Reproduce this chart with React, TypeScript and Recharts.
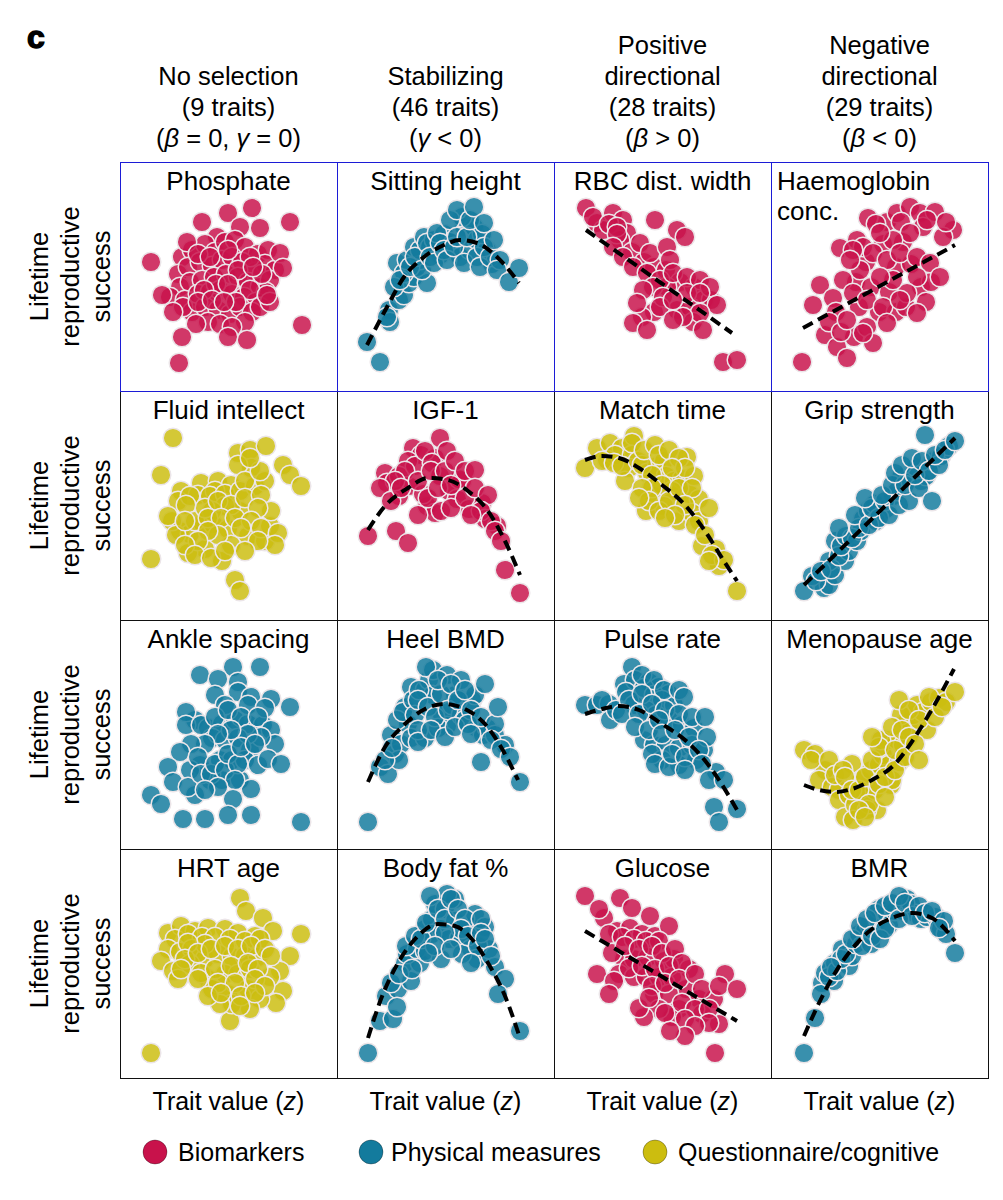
import { ScatterChart, Scatter, XAxis, YAxis } from "recharts";

type P = [number, number];

// positions in panel units: x from the left edge, y down from the top edge
const BIO = "#C8124B";
const PHYS = "#137B9D";
const QUEST = "#CCBD0F";

const PW = 217;
const PH = 229;
const COLS = [120, 337, 554, 771];
const ROWS = [162, 391, 620, 849];

const columnHeads = [
  ["No selection", "(9 traits)", "(β = 0, γ = 0)"],
  ["Stabilizing", "(46 traits)", "(γ < 0)"],
  ["Positive", "directional", "(28 traits)", "(β > 0)"],
  ["Negative", "directional", "(29 traits)", "(β < 0)"],
];

const legendItems = [
  { label: "Biomarkers", color: BIO, cx: 155, tx: 178 },
  { label: "Physical measures", color: PHYS, cx: 371, tx: 391 },
  { label: "Questionnaire/cognitive", color: QUEST, cx: 655, tx: 678 },
];

// row 1
const phosphatePts: P[] = [
  [31, 100], [82, 60], [108, 51], [132, 46], [170, 60], [120, 65], [140, 66], [97, 75],
  [62, 95], [72, 88], [85, 82], [95, 90], [105, 80], [115, 78], [125, 85], [138, 92], [148, 88],
  [58, 112], [68, 105], [80, 100], [92, 104], [102, 98], [112, 95], [122, 100], [135, 110], [145, 102], [155, 108],
  [60, 125], [70, 120], [82, 118], [94, 115], [106, 112], [118, 115], [128, 120], [140, 125], [150, 118],
  [50, 135], [65, 138], [78, 132], [90, 130], [100, 128], [112, 132], [124, 135], [136, 140], [146, 130],
  [72, 150], [85, 145], [98, 148], [110, 152], [120, 145], [132, 150], [88, 160], [100, 162], [76, 162],
  [67, 80], [78, 92], [90, 95], [108, 88], [130, 95], [142, 112], [118, 108], [96, 122], [84, 128],
  [108, 122], [130, 128], [63, 145], [78, 140], [116, 140], [92, 138], [104, 140], [140, 145], [150, 140],
  [125, 160], [112, 165],
  [160, 91], [163, 106], [147, 133], [133, 105], [42, 133], [53, 150],
  [182, 163], [62, 175], [108, 175], [127, 178], [59, 201],
];
const sittingPts: P[] = [
  [30, 180], [43, 200], [52, 148], [53, 160], [62, 138], [50, 155], [67, 133], [72, 121], [77, 115],
  [90, 121], [60, 101], [67, 111], [80, 105], [70, 98], [83, 98], [77, 85], [83, 88], [87, 75],
  [57, 125], [63, 118], [73, 105], [78, 95], [85, 108], [93, 85], [97, 78], [103, 93], [107, 72],
  [113, 80], [118, 90], [123, 95], [127, 65], [133, 88], [137, 65], [140, 78], [150, 88], [155, 102],
  [145, 72], [125, 55],
  [90, 81], [93, 95], [97, 101], [100, 71], [103, 81], [107, 88], [110, 98], [113, 58], [117, 85],
  [120, 48], [120, 75], [127, 101], [130, 75], [133, 58], [137, 45], [140, 95], [147, 61], [147, 85],
  [143, 105], [153, 95], [157, 78], [163, 98], [160, 108], [172, 120], [182, 106],
];
const rbcPts: P[] = [
  [32, 46], [43, 61], [49, 68], [59, 51], [69, 58], [73, 71], [66, 78], [101, 58], [123, 68], [131, 75],
  [39, 55], [55, 62], [63, 65], [63, 72], [78, 90], [90, 100], [100, 105], [112, 108], [126, 120],
  [140, 125], [150, 138], [113, 125], [123, 148], [136, 145], [100, 150], [88, 155], [139, 160], [157, 138],
  [59, 85], [69, 95], [86, 81], [96, 91], [113, 85], [116, 98], [79, 105], [93, 111], [106, 118],
  [119, 111], [133, 115], [146, 118], [156, 125], [99, 125], [89, 128], [109, 135], [133, 131],
  [83, 141], [106, 145], [119, 138], [146, 131], [163, 143], [146, 151], [129, 155], [119, 158],
  [79, 161], [93, 168], [149, 168], [169, 200], [183, 198],
];
const haemoPts: P[] = [
  [31, 200], [54, 173], [66, 185], [76, 196], [42, 143], [49, 123], [62, 136], [69, 86], [86, 78],
  [97, 56], [116, 60], [126, 51], [139, 45], [149, 51], [164, 50], [152, 65], [182, 68], [172, 75],
  [105, 62], [130, 60], [156, 58], [175, 60], [112, 82], [132, 80], [95, 100], [125, 105], [140, 102],
  [150, 125], [85, 120], [100, 125], [118, 130], [108, 150], [88, 145], [65, 150], [58, 160], [83, 175],
  [70, 170], [125, 150], [135, 145], [155, 140], [160, 120], [92, 85], [82, 88],
  [139, 71], [122, 78], [109, 71], [102, 91], [116, 98], [129, 91], [146, 95], [159, 101], [169, 115],
  [146, 115], [136, 131], [122, 118], [109, 115], [89, 108], [79, 98], [72, 118], [82, 131], [96, 138],
  [112, 145], [129, 138], [146, 151], [116, 161], [96, 165], [76, 158], [102, 181], [92, 171],
];

// row 2
const fluidPts: P[] = [
  [53, 47], [41, 84], [31, 168], [118, 62], [130, 59], [146, 55], [163, 74], [170, 84], [181, 95],
  [131, 77], [118, 74], [61, 100], [81, 92], [98, 90], [111, 94], [78, 104], [95, 100],
  [58, 110], [70, 105], [90, 105], [105, 103], [120, 100], [135, 95], [145, 90], [60, 140], [70, 143],
  [83, 133], [93, 133], [108, 138], [128, 145], [145, 150], [150, 135], [102, 170], [85, 158], [68, 162],
  [52, 130], [120, 120], [105, 115], [92, 120], [125, 90], [140, 80], [130, 67],
  [48, 125], [56, 144], [66, 114], [75, 130], [85, 117], [98, 110], [111, 114], [125, 107], [141, 104],
  [151, 120], [138, 117], [88, 127], [101, 127], [115, 127], [65, 130], [131, 130], [141, 137],
  [121, 137], [158, 142], [155, 154], [138, 150], [111, 154], [98, 144], [88, 140], [78, 150],
  [65, 154], [75, 164], [91, 167], [105, 160], [125, 160], [115, 189], [120, 200],
];
const igfPts: P[] = [
  [31, 145], [59, 140], [71, 152], [103, 47], [76, 57], [84, 64], [71, 70], [98, 67], [48, 82],
  [50, 92], [62, 85], [72, 95], [78, 75], [88, 60], [95, 72], [103, 85], [112, 100], [120, 108],
  [125, 90], [132, 118], [145, 112], [148, 128], [160, 135], [90, 115], [98, 122], [62, 105], [86, 103],
  [110, 60], [122, 88],
  [68, 80], [58, 90], [43, 97], [54, 110], [64, 97], [81, 90], [94, 80], [108, 80], [81, 124],
  [91, 107], [101, 97], [104, 120], [114, 117], [118, 70], [128, 80], [138, 79], [114, 94], [128, 107],
  [138, 97], [151, 104], [144, 120], [134, 124], [154, 130], [158, 140], [164, 150], [168, 179], [183, 202],
];
const matchPts: P[] = [
  [31, 77], [43, 57], [56, 52], [53, 69], [68, 57], [61, 64], [80, 45], [78, 64], [75, 77], [71, 90],
  [48, 70], [60, 72], [68, 75], [78, 52], [84, 70], [93, 82], [103, 75], [110, 70], [112, 85], [120, 90],
  [128, 88], [135, 103], [145, 108], [118, 100], [100, 105], [92, 120], [110, 115], [125, 130],
  [138, 122], [145, 130], [148, 155], [162, 158], [165, 175], [140, 85], [133, 66],
  [88, 74], [90, 59], [101, 54], [105, 64], [115, 59], [125, 67], [131, 77], [118, 77], [98, 84],
  [108, 94], [98, 97], [88, 97], [95, 110], [85, 107], [105, 120], [115, 110], [125, 97], [138, 97],
  [131, 114], [121, 124], [111, 127], [155, 117], [141, 134], [151, 144], [158, 164], [170, 169],
  [155, 170], [183, 200],
];
const gripPts: P[] = [
  [33, 200], [53, 197], [41, 185], [58, 194], [64, 184], [58, 170], [74, 170], [78, 160], [64, 150],
  [45, 190], [50, 180], [60, 178], [68, 165], [70, 155], [75, 145], [86, 150], [92, 128], [97, 120],
  [104, 113], [115, 118], [122, 105], [126, 100], [130, 86], [138, 88], [145, 76], [150, 90], [155, 85],
  [162, 70], [170, 65], [178, 55], [90, 140], [105, 130],
  [81, 147], [68, 137], [88, 137], [84, 124], [98, 134], [108, 127], [101, 117], [94, 107], [114, 110],
  [111, 104], [118, 124], [128, 114], [138, 110], [121, 94], [134, 94], [148, 97], [161, 110],
  [124, 82], [131, 74], [144, 84], [141, 67], [151, 70], [158, 80], [168, 74], [164, 64], [174, 59],
  [154, 44], [184, 50],
];

// row 3
const anklePts: P[] = [
  [80, 55], [113, 47], [140, 47], [98, 59], [118, 62], [95, 75], [118, 72], [131, 77], [151, 79],
  [75, 100], [88, 108], [102, 104], [115, 100], [128, 104], [143, 105], [92, 118], [105, 120],
  [118, 118], [130, 130], [80, 145], [100, 140], [112, 140], [125, 140], [138, 145], [70, 150],
  [90, 160], [102, 160], [120, 160], [75, 175], [128, 85], [105, 85], [145, 88],
  [170, 87], [66, 92], [66, 105], [81, 105], [95, 97], [108, 90], [121, 97], [138, 97], [151, 110],
  [155, 124], [141, 117], [128, 114], [111, 110], [98, 114], [85, 124], [71, 124], [60, 132],
  [78, 137], [48, 147], [53, 162], [68, 167], [81, 154], [91, 154], [95, 144], [105, 150], [108, 134],
  [118, 144], [121, 127], [135, 124], [148, 139], [161, 144], [131, 169], [115, 160], [113, 179],
  [98, 167], [85, 170], [31, 175], [41, 184], [63, 199], [85, 199], [108, 195], [131, 195], [181, 202],
];
const heelPts: P[] = [
  [31, 202], [43, 147], [51, 154], [58, 134], [54, 115], [64, 124], [71, 104], [68, 87], [74, 67],
  [60, 100], [66, 92], [76, 80], [78, 95], [88, 70], [92, 60], [96, 75], [105, 95], [110, 106],
  [115, 85], [118, 75], [124, 95], [128, 100], [135, 80], [140, 108], [146, 115], [150, 108],
  [158, 115], [62, 140], [48, 140], [82, 70], [96, 50], [110, 55], [124, 60], [138, 75], [168, 125],
  [55, 128], [74, 118], [88, 118], [101, 108],
  [89, 47], [81, 80], [91, 87], [81, 110], [81, 122], [98, 97], [94, 110], [108, 117], [104, 74],
  [101, 60], [114, 64], [111, 90], [121, 80], [128, 70], [134, 90], [118, 107], [131, 104], [134, 114],
  [144, 97], [148, 64], [158, 104], [161, 87], [154, 120], [144, 142], [164, 129], [173, 137], [183, 162],
];
const pulsePts: P[] = [
  [31, 85], [43, 85], [55, 84], [56, 100], [78, 47], [70, 64], [81, 60], [95, 62], [105, 67], [115, 74],
  [48, 80], [62, 90], [72, 72], [80, 85], [90, 68], [100, 75], [108, 80], [120, 85], [92, 90],
  [102, 95], [115, 100], [128, 105], [140, 108], [90, 120], [100, 125], [112, 125], [125, 128],
  [138, 125], [108, 140], [125, 145], [142, 140], [88, 55], [100, 60], [110, 70], [125, 70],
  [150, 130], [162, 152],
  [130, 77], [75, 80], [88, 74], [68, 94], [85, 94], [98, 84], [111, 90], [125, 94], [138, 97],
  [151, 97], [81, 107], [95, 110], [105, 100], [108, 114], [121, 110], [135, 117], [153, 117],
  [98, 134], [101, 144], [115, 147], [118, 134], [131, 137], [145, 130], [148, 144], [131, 150],
  [155, 160], [170, 160], [160, 187], [183, 189], [165, 202],
];
const menoPts: P[] = [
  [33, 130], [44, 134], [54, 150], [48, 160], [61, 167], [68, 170], [68, 180], [74, 197], [81, 144],
  [40, 140], [58, 140], [64, 155], [72, 150], [78, 175], [84, 185], [90, 160], [94, 175], [100, 150],
  [104, 170], [108, 145], [112, 135], [116, 120], [118, 145], [120, 165], [126, 120], [128, 142],
  [132, 125], [136, 102], [140, 110], [142, 95], [146, 85], [152, 92], [156, 110], [160, 82],
  [168, 78], [175, 82], [106, 190], [82, 200], [96, 190], [130, 95], [110, 120], [121, 160],
  [74, 157], [81, 170], [88, 170], [98, 184], [88, 190], [94, 197], [94, 157], [101, 140], [108, 127],
  [101, 117], [108, 164], [114, 157], [114, 177], [124, 150], [124, 130], [121, 107], [131, 110],
  [134, 137], [138, 117], [128, 80], [138, 90], [148, 100], [144, 124], [148, 140], [158, 77],
  [164, 97], [171, 87], [184, 72],
];

// row 4
const hrtPts: P[] = [
  [31, 204], [120, 49], [126, 62], [143, 69], [153, 82], [181, 85], [170, 107], [160, 122], [163, 142],
  [156, 154], [110, 172], [48, 84], [61, 77], [75, 82], [88, 79], [105, 80], [118, 84], [135, 87],
  [55, 90], [68, 85], [82, 88], [95, 88], [110, 90], [125, 92], [140, 90], [48, 100], [60, 103],
  [72, 100], [85, 110], [98, 105], [112, 108], [125, 107], [138, 108], [70, 115], [88, 130],
  [105, 125], [118, 125], [130, 120], [92, 140], [108, 145], [128, 140], [140, 150], [150, 128],
  [112, 155], [100, 155], [130, 160], [85, 95],
  [68, 94], [41, 112], [53, 122], [58, 130], [65, 110], [61, 120], [78, 104], [91, 100], [105, 97],
  [118, 100], [131, 97], [145, 100], [151, 107], [81, 124], [95, 120], [111, 117], [128, 114],
  [138, 120], [78, 130], [98, 134], [115, 134], [135, 130], [145, 137], [88, 147], [101, 144],
  [121, 147], [120, 157], [135, 144],
];
const bodyFatPts: P[] = [
  [31, 204], [43, 172], [56, 170], [49, 147], [61, 140], [54, 134], [74, 132], [68, 114], [83, 114],
  [62, 125], [70, 105], [75, 120], [80, 100], [88, 80], [95, 70], [98, 55], [104, 80], [108, 60],
  [112, 90], [118, 72], [122, 90], [130, 78], [134, 100], [138, 65], [140, 110], [148, 78], [152, 100],
  [158, 118], [95, 85], [88, 102], [104, 110], [125, 105], [60, 158], [118, 50], [110, 45],
  [69, 97], [78, 87], [84, 90], [89, 74], [93, 47], [101, 60], [108, 70], [114, 50], [121, 60],
  [128, 70], [124, 80], [144, 70], [108, 84], [98, 97], [91, 104], [114, 100], [131, 87], [141, 97],
  [144, 84], [148, 90], [154, 107], [134, 114], [168, 130], [161, 145], [183, 182],
];
const glucosePts: P[] = [
  [31, 47], [66, 49], [78, 59], [96, 67], [50, 69], [63, 82], [76, 79], [88, 85], [101, 87], [115, 77],
  [45, 60], [55, 85], [68, 88], [80, 90], [92, 92], [105, 92], [70, 110], [80, 110], [94, 108],
  [110, 112], [120, 110], [135, 120], [65, 125], [80, 128], [92, 128], [105, 128], [118, 128],
  [132, 140], [145, 150], [100, 145], [115, 145], [125, 160], [118, 168], [148, 165], [160, 150],
  [165, 175], [105, 160], [90, 168],
  [58, 104], [71, 97], [85, 100], [98, 97], [108, 104], [121, 100], [43, 125], [60, 132], [55, 145],
  [75, 119], [88, 117], [101, 120], [115, 117], [128, 114], [98, 137], [111, 134], [125, 130],
  [141, 125], [148, 140], [171, 125], [165, 137], [183, 140], [85, 159], [95, 149], [111, 164],
  [128, 154], [141, 160], [155, 160], [131, 170], [155, 174], [141, 177], [131, 187], [116, 182],
  [161, 204],
];
const bmrPts: P[] = [
  [33, 204], [44, 169], [51, 134], [63, 132], [54, 124], [64, 114], [78, 117], [71, 100], [81, 107],
  [50, 145], [58, 128], [66, 122], [70, 110], [75, 105], [85, 95], [88, 85], [94, 82], [98, 75],
  [106, 72], [108, 60], [116, 65], [118, 76], [124, 62], [132, 62], [136, 50], [140, 55], [145, 65],
  [150, 70], [156, 68], [165, 68], [170, 80], [175, 85], [100, 95], [60, 118],
  [91, 97], [81, 90], [89, 77], [96, 70], [101, 87], [104, 64], [109, 90], [114, 80], [114, 57],
  [121, 54], [128, 70], [128, 47], [134, 54], [141, 67], [148, 57], [154, 64], [161, 62], [173, 72],
  [168, 79], [184, 104],
];

// dashed fit curves
const sittingFit: P[] = [[30, 183], [50, 145], [67, 115], [87, 95], [107, 83], [123, 78], [140, 81], [160, 95], [182, 121]];
const rbcFit: P[] = [[32, 68], [178, 171]];
const haemoFit: P[] = [[32, 166], [184, 83]];
const igfFit: P[] = [[31, 139], [48, 115], [71, 97], [91, 87], [111, 89], [131, 100], [151, 120], [168, 150], [183, 184]];
const matchFit: P[] = [[31, 69], [48, 65], [65, 67], [85, 77], [108, 94], [131, 114], [151, 140], [168, 167], [183, 190]];
const gripFit: P[] = [[33, 194], [184, 47]];
const heelFit: P[] = [[31, 162], [48, 127], [68, 104], [88, 89], [108, 84], [128, 89], [148, 104], [164, 127], [181, 160]];
const pulseFit: P[] = [[31, 94], [48, 89], [65, 86], [85, 90], [108, 104], [131, 120], [148, 137], [165, 160], [183, 190]];
const menoFit: P[] = [[33, 165], [48, 170], [64, 172], [81, 169], [101, 160], [124, 144], [144, 117], [164, 84], [183, 49]];
const bodyFatFit: P[] = [[31, 189], [44, 150], [61, 114], [81, 87], [101, 75], [118, 77], [134, 89], [151, 114], [168, 147], [183, 189]];
const glucoseFit: P[] = [[31, 82], [183, 172]];
const bmrFit: P[] = [[33, 187], [48, 154], [64, 124], [81, 100], [101, 80], [121, 69], [141, 64], [161, 69], [184, 92]];

type PanelDef = { title: string[]; color: string; pts: P[]; fit?: P[]; alignLeft?: boolean };

const panels: PanelDef[][] = [
  [
    { title: ["Phosphate"], color: BIO, pts: phosphatePts },
    { title: ["Sitting height"], color: PHYS, pts: sittingPts, fit: sittingFit },
    { title: ["RBC dist. width"], color: BIO, pts: rbcPts, fit: rbcFit },
    { title: ["Haemoglobin", "conc."], color: BIO, pts: haemoPts, fit: haemoFit, alignLeft: true },
  ],
  [
    { title: ["Fluid intellect"], color: QUEST, pts: fluidPts },
    { title: ["IGF-1"], color: BIO, pts: igfPts, fit: igfFit },
    { title: ["Match time"], color: QUEST, pts: matchPts, fit: matchFit },
    { title: ["Grip strength"], color: PHYS, pts: gripPts, fit: gripFit },
  ],
  [
    { title: ["Ankle spacing"], color: PHYS, pts: anklePts },
    { title: ["Heel BMD"], color: PHYS, pts: heelPts, fit: heelFit },
    { title: ["Pulse rate"], color: PHYS, pts: pulsePts, fit: pulseFit },
    { title: ["Menopause age"], color: QUEST, pts: menoPts, fit: menoFit },
  ],
  [
    { title: ["HRT age"], color: QUEST, pts: hrtPts },
    { title: ["Body fat %"], color: PHYS, pts: bodyFatPts, fit: bodyFatFit },
    { title: ["Glucose"], color: BIO, pts: glucosePts, fit: glucoseFit },
    { title: ["BMR"], color: PHYS, pts: bmrPts, fit: bmrFit },
  ],
];

const FONT = "'Liberation Sans', Arial, Helvetica, sans-serif";

function greek(s: string) {
  return s.split(/([βγ])/).map((part, i) =>
    part === "β" || part === "γ" ? <i key={i}>{part}</i> : <span key={i}>{part}</span>
  );
}

function Panel({ def, left, top, blue }: { def: PanelDef; left: number; top: number; blue: boolean }) {
  const data = def.pts.map(([x, y]) => ({ x, y }));
  const fitData = def.fit ? def.fit.map(([x, y]) => ({ x, y })) : null;
  const color = def.color;
  return (
    <>
      <div style={{ position: "absolute", left, top, width: PW, height: PH }}>
        <ScatterChart width={PW} height={PH} margin={{ top: 0, right: 0, bottom: 0, left: 0 }}>
          <XAxis type="number" dataKey="x" domain={[0, PW]} allowDataOverflow hide />
          <YAxis type="number" dataKey="y" domain={[0, PH]} allowDataOverflow reversed hide />
          <Scatter
            data={data}
            isAnimationActive={false}
            shape={(p: any) => (
              <circle cx={p.cx} cy={p.cy} r={9.8} fill={color} fillOpacity={0.84} stroke="#ebe5e8" strokeWidth={1.5} />
            )}
          />
          {fitData && (
            <Scatter
              data={fitData}
              isAnimationActive={false}
              line={{ stroke: "#000", strokeWidth: 4, strokeDasharray: "11 6" }}
              lineJointType="monotoneX"
              shape={() => <g />}
            />
          )}
        </ScatterChart>
      </div>
      <div
        style={{
          position: "absolute",
          left: def.alignLeft ? left + 6 : left,
          top: top + 4,
          width: PW,
          textAlign: def.alignLeft ? "left" : "center",
          fontSize: 26,
          lineHeight: "30px",
          color: "#000",
        }}
      >
        {def.title.map((t) => (
          <div key={t}>{t}</div>
        ))}
      </div>
      <div
        style={{
          position: "absolute",
          left,
          top,
          width: PW + 1,
          height: PH + 1,
          boxSizing: "border-box",
          border: `1.5px solid ${blue ? "#1c1cd6" : "#111"}`,
          zIndex: blue ? 2 : 1,
        }}
      />
    </>
  );
}

export default function App() {
  return (
    <div style={{ position: "absolute", left: 0, top: 0, width: 1003, height: 1200, background: "#fff", fontFamily: FONT, color: "#000" }}>
      <div style={{ position: "absolute", left: 27, top: 21, fontSize: 32, fontWeight: 900, lineHeight: "32px", WebkitTextStroke: "1.4px #000" }}>c</div>

      {columnHeads.map((lines, c) => (
        <div
          key={c}
          style={{
            position: "absolute",
            left: COLS[c],
            top: 30 + (4 - lines.length) * 31,
            width: PW,
            textAlign: "center",
            fontSize: 25.5,
            lineHeight: "31px",
          }}
        >
          {lines.map((l) => (
            <div key={l}>{greek(l)}</div>
          ))}
        </div>
      ))}

      {ROWS.map((top, r) => (
        <div
          key={r}
          style={{
            position: "absolute",
            left: 70 - 115,
            top: top + PH / 2 - 46.5,
            width: 230,
            height: 93,
            transform: "rotate(-90deg)",
            transformOrigin: "center",
            textAlign: "center",
            fontSize: 25.5,
            lineHeight: "31px",
          }}
        >
          <div>Lifetime</div>
          <div>reproductive</div>
          <div>success</div>
        </div>
      ))}

      {panels.map((row, r) =>
        row.map((def, c) => <Panel key={`${r}-${c}`} def={def} left={COLS[c]} top={ROWS[r]} blue={r === 0} />)
      )}

      {COLS.map((left, c) => (
        <div
          key={c}
          style={{ position: "absolute", left, top: 1086, width: PW, textAlign: "center", fontSize: 25, lineHeight: "30px" }}
        >
          Trait value (<i>z</i>)
        </div>
      ))}

      {legendItems.map((it) => (
        <div key={it.label}>
          <svg style={{ position: "absolute", left: it.cx - 13, top: 1152 - 13 }} width={26} height={26}>
            <circle cx={13} cy={13} r={12} fill={it.color} stroke="rgba(0,0,0,0.3)" strokeWidth={1} />
          </svg>
          <div style={{ position: "absolute", left: it.tx, top: 1137, fontSize: 25, lineHeight: "30px", whiteSpace: "nowrap" }}>
            {it.label}
          </div>
        </div>
      ))}
    </div>
  );
}
